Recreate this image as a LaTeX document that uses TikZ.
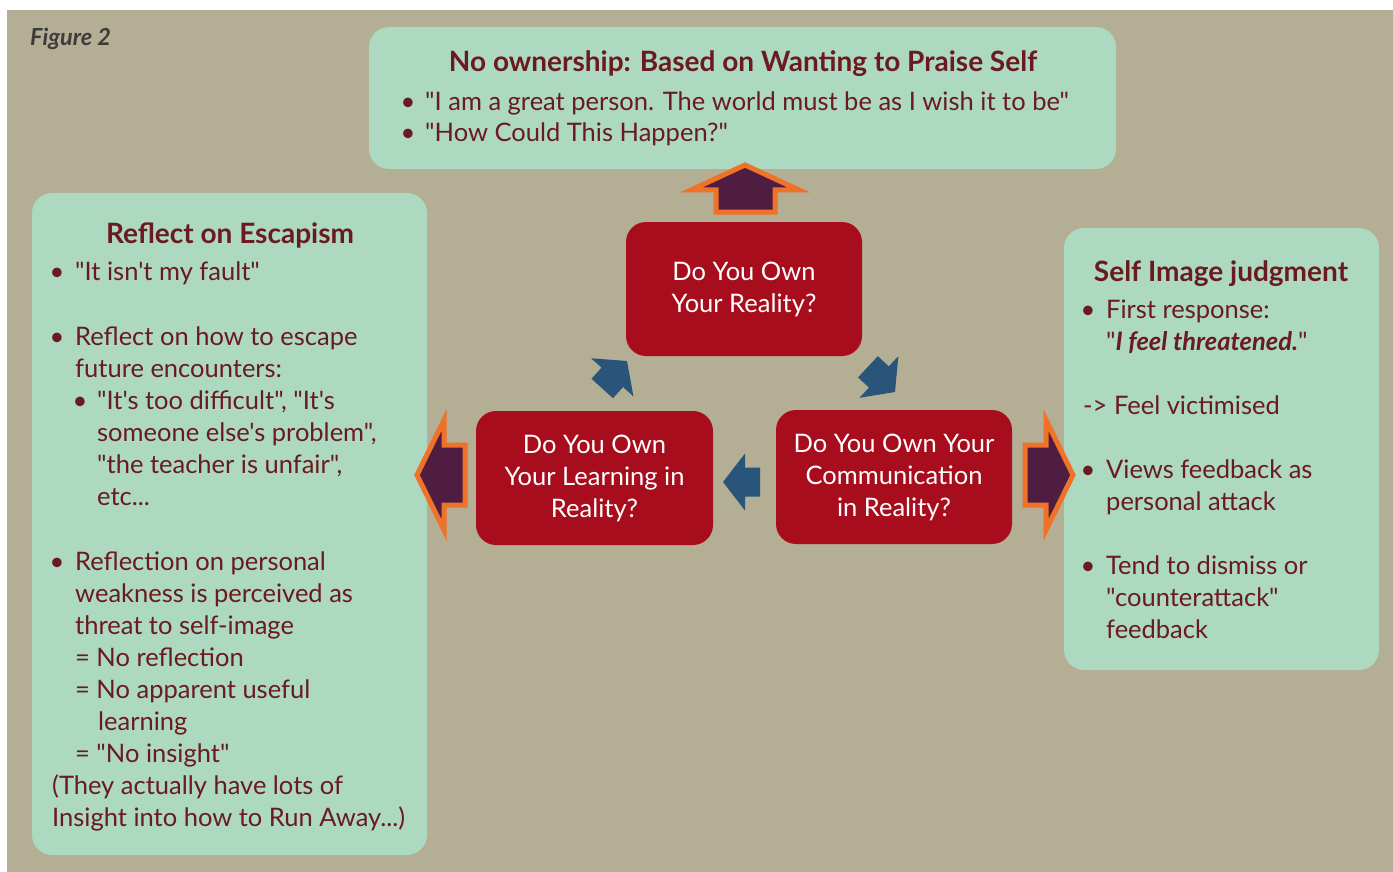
\documentclass[tikz,border=0pt]{standalone}
\usepackage{fontspec}
\newfontfamily\gill{Lato}
\definecolor{tanbg}{HTML}{B3AE94}
\definecolor{mint}{HTML}{ACD9BF}
\definecolor{txt}{HTML}{6A1A20}
\definecolor{redbox}{HTML}{A80D1D}
\definecolor{purp}{HTML}{4F1C42}
\definecolor{orng}{HTML}{F07228}
\definecolor{bluearr}{HTML}{285579}
\definecolor{figgray}{HTML}{3C3C3C}
\begin{document}
\begin{tikzpicture}[x=1pt,y=-1pt,
  mintbox/.style={fill=mint, rounded corners=20pt},
  redstep/.style={fill=redbox, rounded corners=20pt, text=white, align=center,
     font=\gill\fontsize{25.5}{32}\selectfont},
  body/.style={text=txt, inner sep=0pt, anchor=base west, font=\gill\fontsize{25.5}{32}\selectfont},
  bul/.style={text=txt, inner sep=0pt, anchor=base, font=\gill\fontsize{25.5}{32}\selectfont},
  ttl/.style={text=txt, inner sep=0pt, anchor=base, font=\gill\bfseries\fontsize{28}{32}\selectfont},
  bigarrow/.style={fill=purp, draw=orng, line width=5pt, line join=miter},
  smallarrow/.style={fill=bluearr}
]
\useasboundingbox (0,0) rectangle (1393,872);
\fill[white] (0,0) rectangle (1393,872);
\fill[tanbg] (7,10) rectangle (1393,872);

\node[text=figgray, inner sep=0pt, anchor=base west, font=\gill\bfseries\itshape\fontsize{23.5}{24}\selectfont] (fig) at (30,46) {Figure 2};

% mint boxes
\fill[mintbox] (369,27) rectangle (1116,169);
\fill[mintbox] (32,193) rectangle (427,855);
\fill[mintbox] (1064,228) rectangle (1379,670);

% red boxes
\node[redstep, minimum width=236pt, minimum height=134pt] (top) at (744,289) {Do You Own\\Your Reality?};
\node[redstep, minimum width=237pt, minimum height=134pt] (learn) at (594.5,478) {Do You Own\\Your Learning in\\Reality?};
\node[redstep, minimum width=236pt, minimum height=134pt] (comm) at (894,477) {Do You Own Your\\Communication\\in Reality?};

% big purple arrows
\draw[bigarrow] (745,165) -- (799,190) -- (775,190) -- (775,212) -- (716,212) -- (716,190) -- (691,190) -- cycle;
\draw[bigarrow] (417,475) -- (444,420) -- (444,445) -- (465,445) -- (465,505) -- (444,505) -- (444,530) -- cycle;
\draw[bigarrow] (1073,475) -- (1046,420) -- (1046,445) -- (1025,445) -- (1025,505) -- (1046,505) -- (1046,530) -- cycle;

% small blue arrows (tip at origin, pointing +x)
\def\sarrow{(0,0) -- (-22,-28.5) -- (-22,-14.5) -- (-37,-14.5) -- (-37,14.5) -- (-22,14.5) -- (-22,28.5) -- cycle}
\fill[smallarrow, shift={(723,482)}, rotate=180] \sarrow;
\fill[smallarrow, shift={(627,361)}, rotate=48] \sarrow;
\fill[smallarrow, shift={(895,392)}, rotate=-43] \sarrow;

% top box text
\node[ttl] (t0) at (743,72) {No ownership: Based on Wanting to Praise Self};
\node[bul] (t1) at (408,111) {•};
\node[body] (t1t) at (425,111) {"I am a great person. The world must be as I wish it to be"};
\node[bul] (t2) at (408,142) {•};
\node[body] (t2t) at (425,142) {"How Could This Happen?"};

% left box text
\node[ttl] (l0) at (230,243) {Reflect on Escapism};
\node[bul] (lb1) at (57,280) {•};
\node[body] (l1) at (75,280) {"It isn't my fault"};
\node[bul] (lb2) at (57,345) {•};
\node[body] (l2) at (75,345) {Reflect on how to escape};
\node[body] (l3) at (75,377) {future encounters:};
\node[bul] (lb4) at (80,409) {•};
\node[body] (l4) at (97,409) {"It's too difficult", "It's};
\node[body] (l5) at (97,441) {someone else's problem",};
\node[body] (l6) at (97,473) {"the teacher is unfair",};
\node[body] (l7) at (97,505) {etc...};
\node[bul] (lb8) at (57,570) {•};
\node[body] (l8) at (75,570) {Reflection on personal};
\node[body] (l9) at (75,602) {weakness is perceived as};
\node[body] (l10) at (75,634) {threat to self-image};
\node[body] (l11) at (75,666) {= No reflection};
\node[body] (l12) at (75,698) {= No apparent useful};
\node[body] (l13) at (98,730) {learning};
\node[body] (l14) at (75,762) {= "No insight"};
\node[body] (l15) at (52,794) {(They actually have lots of};
\node[body] (l16) at (52,826) {Insight into how to Run Away...)};

% right box text
\node[ttl] (r0) at (1221,281) {Self Image judgment};
\node[bul] (rb1) at (1088,318) {•};
\node[body] (r1) at (1106,318) {First response:};
\node[body] (r2) at (1106,350) {"{\bfseries\itshape I feel threatened.}"};
\node[body] (r3) at (1083,414) {-> Feel victimised};
\node[bul] (rb4) at (1088,478) {•};
\node[body] (r4) at (1106,478) {Views feedback as};
\node[body] (r5) at (1106,510) {personal attack};
\node[bul] (rb6) at (1088,574) {•};
\node[body] (r6) at (1106,574) {Tend to dismiss or};
\node[body] (r7) at (1106,606) {"counterattack"};
\node[body] (r8) at (1106,638) {feedback};
\end{tikzpicture}
\end{document}
